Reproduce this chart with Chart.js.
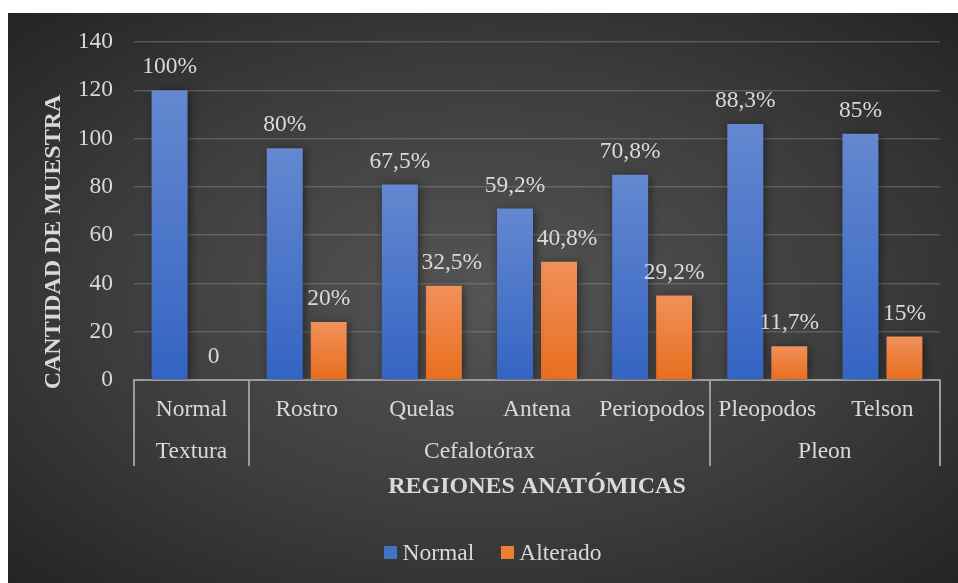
<!DOCTYPE html>
<html>
<head>
<meta charset="utf-8">
<script src="https://cdn.jsdelivr.net/npm/chart.js@4"></script>
<style>
  html, body { margin: 0; padding: 0; background: #ffffff; overflow: hidden; }
  #panel {
    position: absolute; left: 8px; top: 13px; width: 950px; height: 570px;
    background: radial-gradient(ellipse farthest-corner at 50% 50%, #555555 0%, #3d3d3d 55%, #242424 100%);
  }
  canvas { display: block; }
</style>
</head>
<body>
<div id="panel"><canvas id="chart" width="950" height="570"></canvas></div>
<script>
// Sample counts per anatomical region (120 specimens in total)
const categories = ['Normal', 'Rostro', 'Quelas', 'Antena', 'Periopodos', 'Pleopodos', 'Telson'];
const groups = ['Textura', 'Cefalotórax', 'Cefalotórax', 'Cefalotórax', 'Cefalotórax', 'Pleon', 'Pleon'];
const normalValues = [120, 96, 81, 71, 85, 106, 102];
const alteradoValues = [0, 24, 39, 49, 35, 14, 18];
const normalLabels = ['100%', '80%', '67,5%', '59,2%', '70,8%', '88,3%', '85%'];
const alteradoLabels = ['0', '20%', '32,5%', '40,8%', '29,2%', '11,7%', '15%'];
const yTicks = [0, 20, 40, 60, 80, 100, 120, 140];
const yTitle = 'CANTIDAD DE MUESTRA';
const xTitle = 'REGIONES ANATÓMICAS';

const SERIF = "'Liberation Serif', 'Times New Roman', serif";
const FS = 23.5;
const TEXT = '#d9d9d9';
const LINE = '#9b9b9b';

function barGradient(top, bottom) {
  return (ctx) => {
    const chart = ctx.chart;
    const y = chart.scales.y;
    if (!y || ctx.raw === undefined) return top;
    const y0 = y.getPixelForValue(0);
    const y1 = y.getPixelForValue(ctx.raw);
    if (!isFinite(y0) || !isFinite(y1) || y0 === y1) return top;
    const g = chart.ctx.createLinearGradient(0, y1, 0, y0);
    g.addColorStop(0, top);
    g.addColorStop(1, bottom);
    return g;
  };
}

// Soft shadow behind the bars
const barShadow = {
  id: 'barShadow',
  beforeDatasetsDraw(chart) {
    const c = chart.ctx;
    c.save();
    c.shadowColor = 'rgba(0,0,0,0.5)';
    c.shadowBlur = 9;
    c.shadowOffsetX = 2;
    c.shadowOffsetY = 1;
  },
  afterDatasetsDraw(chart) { chart.ctx.restore(); }
};

// Percentage labels above each bar
const valueLabels = {
  id: 'valueLabels',
  afterDatasetsDraw(chart, args, opts) {
    const c = chart.ctx;
    c.save();
    c.font = opts.font;
    c.fillStyle = opts.color;
    c.textAlign = 'center';
    c.textBaseline = 'middle';
    chart.data.datasets.forEach((ds, di) => {
      const meta = chart.getDatasetMeta(di);
      const shifts = (opts.shiftX && opts.shiftX[di]) || {};
      meta.data.forEach((bar, i) => {
        c.fillText(ds.valueLabels[i], bar.x + (shifts[i] || 0), bar.y - opts.offset);
      });
    });
    c.restore();
  }
};

// Vertical axis title, placed beside the value axis
const sideTitle = {
  id: 'sideTitle',
  afterDraw(chart, args, opts) {
    const c = chart.ctx;
    c.save();
    c.translate(opts.x, opts.y);
    c.rotate(-Math.PI / 2);
    c.font = opts.font;
    c.fillStyle = opts.color;
    c.textAlign = 'center';
    c.textBaseline = 'middle';
    c.fillText(opts.text, 0, 0);
    c.restore();
  }
};

// Second row of category labels (groups) with separators
const groupAxis = {
  id: 'groupAxis',
  afterDraw(chart, args, opts) {
    const x = chart.scales.x;
    const area = chart.chartArea;
    const c = chart.ctx;
    const half = (x.getPixelForValue(1) - x.getPixelForValue(0)) / 2;
    const spans = [];
    groups.forEach((g, i) => {
      const last = spans[spans.length - 1];
      if (last && last.name === g) last.end = i;
      else spans.push({ name: g, start: i, end: i });
    });
    c.save();
    c.strokeStyle = opts.lineColor;
    c.lineWidth = 2;
    const yTop = area.bottom;
    const yBot = area.bottom + opts.depth;
    const edges = [x.getPixelForValue(0) - half];
    spans.forEach(s => edges.push(x.getPixelForValue(s.end) + half));
    edges.forEach(px => {
      c.beginPath();
      c.moveTo(Math.round(px), yTop);
      c.lineTo(Math.round(px), yBot);
      c.stroke();
    });
    c.font = opts.font;
    c.fillStyle = opts.color;
    c.textAlign = 'center';
    c.textBaseline = 'middle';
    spans.forEach(s => {
      const cx = (x.getPixelForValue(s.start) + x.getPixelForValue(s.end)) / 2;
      c.fillText(s.name, cx, area.bottom + opts.labelOffset);
    });
    c.restore();
  }
};

// Legend row at the bottom
const bottomLegend = {
  id: 'bottomLegend',
  afterDraw(chart, args, opts) {
    const c = chart.ctx;
    c.save();
    c.font = opts.font;
    c.textBaseline = 'middle';
    c.textAlign = 'left';
    const items = chart.data.datasets.map(ds => ({ text: ds.label, color: ds.legendColor, w: c.measureText(ds.label).width }));
    const box = opts.box, gap = opts.gap, spacing = opts.spacing;
    let total = 0;
    items.forEach((it, i) => { total += box + gap + it.w + (i ? spacing : 0); });
    let px = opts.centerX - total / 2;
    const cy = opts.y;
    items.forEach(it => {
      c.fillStyle = it.color;
      c.fillRect(Math.round(px), Math.round(cy - box / 2), box, box);
      c.fillStyle = opts.color;
      c.fillText(it.text, px + box + gap, cy + 1);
      px += box + gap + it.w + spacing;
    });
    c.restore();
  }
};

function draw() {
  new Chart(document.getElementById('chart'), {
    type: 'bar',
    data: {
      labels: categories,
      datasets: [
        {
          label: 'Normal',
          data: normalValues,
          valueLabels: normalLabels,
          legendColor: '#4472c4',
          backgroundColor: barGradient('#6488d0', '#3464c2'),
          categoryPercentage: 0.764,
          barPercentage: 0.818
        },
        {
          label: 'Alterado',
          data: alteradoValues,
          valueLabels: alteradoLabels,
          legendColor: '#ed7d31',
          backgroundColor: barGradient('#f1905a', '#e86e1e'),
          categoryPercentage: 0.764,
          barPercentage: 0.818
        }
      ]
    },
    options: {
      responsive: false,
      animation: false,
      events: [],
      layout: { padding: { top: 29, right: 18, bottom: 0, left: 0 } },
      plugins: {
        legend: { display: false },
        tooltip: { enabled: false },
        valueLabels: { font: FS + 'px ' + SERIF, color: TEXT, offset: 23, shiftX: { 1: { 2: 8, 3: 8 } } },
        sideTitle: { text: yTitle, font: 'bold 24px ' + SERIF, color: TEXT, x: 46, y: 229 },
        groupAxis: { font: FS + 'px ' + SERIF, color: TEXT, lineColor: LINE, depth: 86, labelOffset: 72 },
        bottomLegend: { font: FS + 'px ' + SERIF, color: TEXT, box: 13, gap: 5, spacing: 27, centerX: 485, y: 539.5 }
      },
      scales: {
        x: {
          grid: { display: false, drawTicks: false },
          border: { display: true, color: LINE, width: 2 },
          ticks: { color: TEXT, font: { family: SERIF, size: FS }, padding: 16, maxRotation: 0, autoSkip: false },
          title: {
            display: true, text: xTitle, color: TEXT,
            font: { family: SERIF, size: 24, weight: 'bold' },
            padding: { top: 0, bottom: 82 }
          },
          afterFit(scale) { scale.height = 203; }
        },
        y: {
          min: 0, max: 140,
          afterBuildTicks(scale) { scale.ticks = yTicks.map(v => ({ value: v })); },
          grid: {
            color: 'rgba(135,135,135,0.45)', lineWidth: 1.5,
            drawTicks: true, tickLength: 15, tickColor: 'rgba(0,0,0,0)'
          },
          border: { display: false },
          ticks: { color: TEXT, font: { family: SERIF, size: FS }, padding: 6 },
          afterFit(scale) { scale.width = 126; }
        }
      }
    },
    plugins: [barShadow, valueLabels, sideTitle, groupAxis, bottomLegend]
  });
}

Promise.all([
  document.fonts.load(FS + 'px "Liberation Serif"'),
  document.fonts.load('bold 24px "Liberation Serif"')
]).then(draw, draw);
</script>
</body>
</html>
